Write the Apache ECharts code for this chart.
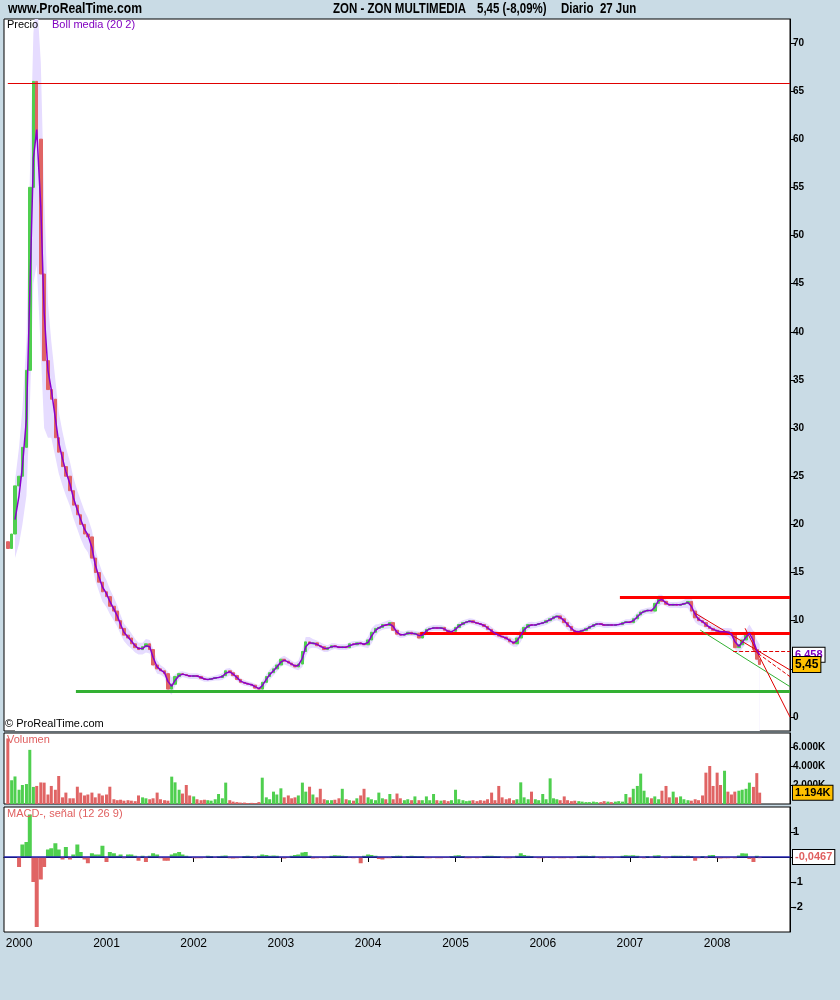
<!DOCTYPE html>
<html><head><meta charset="utf-8">
<script src="https://cdn.jsdelivr.net/npm/echarts@6/dist/echarts.min.js"></script>
<style>html,body{margin:0;padding:0;background:#c9dbe5;}#c{width:840px;height:1000px;}</style>
</head><body><div id="c"></div>
<script>
// ---- data (semi-monthly samples) ----
const closes = [17.5,19,24,
25,28,36,55,66,60,46,37,34,33,29,27.5,26,25,23.5,22,21,20,19,18.7,16.5,15,14,13,
12.5,11.5,11.0,10.0,9.2,8.5,8.2,7.6,7.2,7.0,7.3,7.6,7.0,5.4,5.0,4.8,4.5,2.9,3.4,4.2,4.5,4.4,4.3,4.2,
4.3,4.2,4.0,3.9,3.9,4.0,4.1,4.1,4.3,4.8,4.6,4.3,3.9,3.6,3.5,3.4,3.3,3.0,2.9,3.6,4.2,4.6,5.0,5.4,
6.0,5.8,5.6,5.4,5.2,5.5,6.8,7.8,7.6,7.7,7.4,7.3,7.0,7.2,7.4,7.3,7.2,7.3,7.2,7.6,7.5,7.7,7.6,7.5,
8.0,8.8,9.2,9.3,9.6,9.5,9.8,9.0,8.6,8.5,8.6,8.8,8.6,8.7,8.2,8.8,9.1,9.2,9.3,9.2,9.3,9.0,8.8,8.9,
9.3,9.6,9.8,9.9,10.0,9.8,9.7,9.6,9.4,9.1,8.8,8.6,8.4,8.3,8.1,7.8,7.6,8.2,8.8,9.3,9.6,9.5,9.6,9.7,
9.8,10.0,10.2,10.4,10.5,10.2,9.8,9.4,9.0,8.8,8.9,9.0,9.2,9.4,9.6,9.7,9.6,9.5,9.6,9.5,9.6,9.6,9.8,9.9,
9.8,10.2,10.6,10.9,11.0,11.1,11.0,11.8,12.4,12.0,11.7,11.6,11.7,11.6,11.7,11.8,12.0,11.0,10.3,10.0,9.8,9.4,9.2,9.0,
8.9,8.8,8.9,8.7,8.5,7.2,7.5,8.0,8.6,8.8,7.0,6.0,5.45];
const firstOpen = 18.2;
const bollMid = [null,null,20.5,
23,26,31,44,58,61,53,42,36,34,31,28.5,26.8,25.5,24.2,22.8,21.5,20.5,19.5,18.9,17.6,15.8,14.5,13.5,
12.8,12.0,11.2,10.5,9.6,8.8,8.3,7.9,7.4,7.1,7.1,7.4,7.3,6.2,5.2,4.9,4.6,3.7,3.2,3.8,4.3,4.45,4.35,4.25,
4.25,4.25,4.1,3.95,3.9,3.95,4.05,4.1,4.2,4.55,4.7,4.45,4.1,3.75,3.55,3.45,3.35,3.15,2.95,3.25,3.9,4.4,4.8,5.2,
5.7,5.9,5.7,5.5,5.3,5.35,6.1,7.3,7.7,7.65,7.55,7.35,7.15,7.1,7.3,7.35,7.25,7.25,7.25,7.4,7.55,7.6,7.65,7.55,
7.75,8.4,9.0,9.25,9.45,9.55,9.65,9.4,8.8,8.55,8.55,8.7,8.7,8.65,8.45,8.5,8.95,9.15,9.25,9.25,9.25,9.15,8.9,8.85,
9.1,9.45,9.7,9.85,9.95,9.9,9.75,9.65,9.5,9.25,8.95,8.7,8.5,8.35,8.2,7.95,7.7,7.9,8.5,9.05,9.45,9.55,9.55,9.65,
9.75,9.9,10.1,10.3,10.45,10.35,10.0,9.6,9.2,8.9,8.85,8.95,9.1,9.3,9.5,9.65,9.65,9.55,9.55,9.55,9.55,9.6,9.7,9.85,
9.85,10.0,10.4,10.75,10.95,11.05,11.05,11.4,12.1,12.2,11.85,11.65,11.65,11.65,11.65,11.75,11.9,11.5,10.65,10.15,9.9,9.6,9.3,9.1,
8.95,8.85,8.85,8.8,8.6,7.85,7.35,7.75,8.3,8.7,7.9,6.9,6.458];
const bollHalf = [null,null,4,
5,6,8,12,13,14,15,12,7,5,4,3.2,2.8,2.5,2.3,2.1,2,2,1.9,1.8,1.8,1.6,1.5,1.5,
1.4,1.3,1.2,1.1,1.0,0.9,0.9,0.8,0.7,0.6,0.6,0.7,0.7,0.9,0.7,0.5,0.5,1.0,0.9,0.6,0.4,0.3,0.3,0.3,
0.3,0.3,0.3,0.3,0.25,0.25,0.25,0.3,0.35,0.45,0.4,0.35,0.35,0.3,0.3,0.25,0.25,0.3,0.35,0.5,0.55,0.5,0.5,0.5,
0.5,0.45,0.4,0.35,0.35,0.5,0.9,1.0,0.6,0.45,0.4,0.4,0.4,0.35,0.35,0.3,0.3,0.3,0.3,0.35,0.35,0.3,0.3,0.3,
0.6,0.8,0.6,0.4,0.4,0.4,0.45,0.5,0.45,0.35,0.3,0.3,0.3,0.3,0.4,0.4,0.4,0.3,0.3,0.3,0.3,0.3,0.3,0.3,
0.35,0.4,0.35,0.3,0.3,0.3,0.3,0.3,0.35,0.4,0.4,0.35,0.35,0.3,0.35,0.4,0.4,0.6,0.7,0.5,0.4,0.35,0.3,0.3,
0.3,0.35,0.35,0.35,0.4,0.45,0.55,0.55,0.5,0.4,0.35,0.3,0.3,0.35,0.35,0.3,0.3,0.3,0.3,0.25,0.25,0.25,0.3,0.3,
0.3,0.4,0.45,0.4,0.3,0.3,0.35,0.6,0.6,0.5,0.35,0.3,0.3,0.3,0.35,0.4,0.6,0.9,0.8,0.6,0.5,0.4,0.4,0.4,
0.4,0.4,0.4,0.45,0.6,0.8,0.7,0.6,0.7,0.9,1.0,1.1,1.1];
const volumes = [6900,2500,2900,
1500,2000,2100,5700,1800,1900,2270,2250,1000,1900,1500,2950,700,1200,600,600,1820,1200,900,1000,1200,700,1100,900,
1000,1820,500,400,450,350,400,350,300,900,700,600,500,600,1200,500,400,350,2880,2280,1500,1100,2000,900,
800,500,400,450,400,350,500,1050,600,2250,400,250,200,150,150,100,120,100,200,2770,700,500,1300,1000,
1650,700,900,600,700,900,2250,1300,1820,1000,700,1600,500,400,400,450,600,1600,500,400,350,600,900,1600,
700,500,400,1200,600,500,1050,500,1100,600,400,500,400,800,400,400,800,400,1050,400,350,400,300,400,
1500,500,400,300,350,400,300,400,350,500,1200,400,1900,700,500,600,400,500,2280,700,500,1300,500,400,
1050,500,2700,600,500,400,800,400,300,350,300,250,200,200,250,200,200,300,250,200,250,300,250,1050,
700,1600,1900,3200,1400,700,600,800,500,1400,1900,700,1300,700,800,500,400,350,500,400,900,3300,4000,1900,
3300,2000,3500,1300,1000,1300,1400,1500,1600,2250,1800,3250,1194];
const macdHist = [null,null,null,
-0.4,0.5,0.6,1.7,-1.0,-2.8,-0.9,-0.4,0.3,0.35,0.55,0.3,-0.1,0.4,-0.1,0.1,0.5,0.2,-0.1,-0.25,0.15,0.1,0.1,0.45,
-0.2,0.2,0.15,0.05,0.1,-0.05,0.1,0.1,0.05,-0.15,0.05,-0.2,0.05,0.15,0.1,-0.05,-0.15,-0.15,0.1,0.15,0.2,0.1,0.05,0.0,
-0.05,-0.05,-0.05,-0.04,0.05,0.04,-0.04,0.03,0.05,0.06,-0.05,-0.06,-0.05,-0.04,0.04,0.05,0.03,-0.05,0.05,0.1,0.08,0.05,0.06,0.05,
-0.03,-0.06,-0.04,0.05,0.08,0.1,0.18,0.2,0.05,-0.06,-0.05,-0.04,-0.05,-0.03,0.05,0.07,0.06,0.05,0.04,-0.03,-0.05,-0.04,-0.25,0.05,
0.1,0.08,0.05,-0.08,-0.1,-0.05,-0.05,0.04,0.05,0.05,-0.03,0.04,0.05,0.04,0.03,0.04,-0.05,-0.05,-0.04,-0.05,-0.05,-0.04,-0.04,0.04,
0.06,0.07,0.04,-0.05,-0.05,-0.04,-0.05,-0.04,0.04,0.05,0.05,0.04,0.03,-0.04,-0.05,-0.05,-0.04,0.05,0.15,0.08,0.05,0.04,-0.04,-0.05,
-0.05,-0.04,-0.03,-0.05,-0.04,-0.05,-0.05,-0.04,-0.05,-0.04,0.04,0.05,0.05,0.04,0.05,-0.04,-0.05,-0.05,-0.04,-0.05,-0.04,-0.03,0.05,0.07,
0.06,0.07,0.05,-0.04,-0.05,0.04,-0.04,0.06,0.07,-0.04,-0.05,-0.03,0.05,0.05,0.05,0.04,0.05,0.04,-0.15,-0.05,0.04,-0.05,0.07,0.08,
-0.05,-0.06,-0.05,-0.05,-0.04,-0.05,0.06,0.15,0.14,-0.08,-0.2,0.05,-0.0467];
const priceTicks = [0,5,10,15,20,25,30,35,40,45,50,55,60,65,70];
const volTicks = [2000,4000,6000];
const macdTicks = [1,-1,-2];
const macdTickMarks = [1,0,-1,-2];
const yearLabels = ['2000','2001','2002','2003','2004','2005','2006','2007','2008'];
const xMinDate = '1999-10-30', xMaxDate = '2008-11-01';
const lastClose = 5.45, lastMid = 6.458, lastVol = 1194, lastMacd = -0.0467;
// drawn support / resistance lines (data values)
const hLines = [
  {from:'1999-11-15', value:65.8, color:'#e00000', width:1},
  {from:'2006-11-20', value:12.45, color:'#ff0000', width:3},
  {from:'2004-08-06', value:8.7, color:'#ff0000', width:3},
  {from:'2000-08-26', value:2.65, color:'#33b033', width:3}
];
const trendLines = [
  {a:['2007-10-22',9.03], b:[xMaxDate,3.15], color:'#33b033', type:'solid'},
  {a:['2007-10-01',10.77], b:[xMaxDate,4.88], color:'#e00000', type:'solid'},
  {a:['2008-04-27',9.21], b:[xMaxDate,0.0], color:'#e00000', type:'solid'},
  {a:['2008-03-08',6.85], b:[xMaxDate,6.85], color:'#e00000', type:'dashed'},
  {a:['2008-05-31',6.96], b:[xMaxDate,4.19], color:'#e00000', type:'dashed'}
];

// ---- build ----
const ts = s => Date.UTC(+s.slice(0,4), +s.slice(5,7) - 1, +s.slice(8,10));
const dates = [];
for (let y = 1999; y <= 2008; y++) for (let m = 1; m <= 12; m++) for (const d of [1, 15]) {
  const s = y + '-' + String(m).padStart(2,'0') + '-' + String(d).padStart(2,'0');
  if (s >= '1999-11-15' && s <= '2008-06-15') dates.push(s);
}
dates.push('2008-06-27');
const X = dates.map(ts);
const xMin = ts(xMinDate), xMax = ts(xMaxDate);
const yearTicks = yearLabels.map(y => ts(y + '-01-01'));

const UP = '#4fcf4f', DOWN = '#e06464';
const opens = closes.map((c,i) => i === 0 ? firstOpen : closes[i-1]);
const isUp = closes.map((c,i) => c >= opens[i]);
const candles = closes.map((c,i) => [X[i], opens[i], c, Math.min(opens[i],c), Math.max(opens[i],c)]);
const upperBand = bollMid.map((m,i) => [X[i], m == null ? '-' : m + bollHalf[i]]);
const lowerBand = bollMid.map((m,i) => [X[i], m == null ? '-' : m - bollHalf[i]]);
const mid = bollMid.map((m,i) => [X[i], m == null ? '-' : m]);
const volData = volumes.map((v,i) => ({value:[X[i], v], itemStyle:{color: isUp[i] ? UP : DOWN}}));
const macdData = macdHist.map((v,i) => ({value:[X[i], v == null ? '-' : v], itemStyle:{color: (v||0) >= 0 ? UP : DOWN}}));

const markLines = hLines.map(h => [
  {coord:[ts(h.from), h.value], lineStyle:{color:h.color, width:h.width, type:'solid'}},
  {coord:[xMax, h.value]}
]).concat(trendLines.map(t => [
  {coord:[ts(t.a[0]), t.a[1]], lineStyle:{color:t.color, width:1, type:t.type}},
  {coord:[ts(t.b[0]), t.b[1]]}
]));

function endLabel(value, text, color, bg, fs) {
  return {
    symbol:['none','none'], silent:true, animation:false,
    lineStyle:{color:'rgba(0,0,0,0)', width:0},
    data:[{yAxis:value, label:{show:true, position:'end', distance:3, formatter:text,
      color:color, backgroundColor:bg, borderColor:'#000', borderWidth:1,
      padding:[2,2,1,2], fontFamily:'Liberation Sans', fontWeight:'bold', fontSize:fs}}]
  };
}

const GRID_COMMON = {left:4, width:786, show:true, backgroundColor:'#fff', borderColor:'#000', borderWidth:1};
const xCommon = {type:'value', min:xMin, max:xMax, axisLine:{show:false}, axisTick:{show:false}, axisLabel:{show:false}, splitLine:{show:false}};
const yCommon = {type:'value', position:'right', splitLine:{show:false},
  axisLine:{show:true, lineStyle:{color:'#000'}},
  axisTick:{show:true, length:5, lineStyle:{color:'#000'}},
  axisLabel:{color:'#000', fontFamily:'Liberation Sans', fontWeight:'bold', fontSize:10, margin:3}};
const TITLE_FONT = 'bold 14px "Liberation Sans"';

const chart = echarts.init(document.getElementById('c'), null, {renderer:'canvas'});
chart.setOption({
  backgroundColor:'#c9dbe5',
  animation:false,
  grid:[
    Object.assign({top:19, height:712}, GRID_COMMON),
    Object.assign({top:733, height:71}, GRID_COMMON),
    Object.assign({top:807, height:125}, GRID_COMMON)
  ],
  xAxis:[
    Object.assign({gridIndex:0}, xCommon),
    Object.assign({gridIndex:1}, xCommon),
    {gridIndex:2, type:'value', min:xMin, max:xMax, splitLine:{show:false},
     axisLine:{show:true, lineStyle:{color:'#000'}},
     axisTick:{show:true, length:5, customValues:yearTicks, lineStyle:{color:'#000'}},
     axisLabel:{customValues:yearTicks, color:'#000', fontFamily:'Liberation Sans', fontSize:12, margin:6,
       formatter:v => String(new Date(v).getUTCFullYear())}}
  ],
  yAxis:[
    Object.assign({}, yCommon, {gridIndex:0, min:-1.454, max:72.48,
      axisTick:Object.assign({}, yCommon.axisTick, {customValues:priceTicks}),
      axisLabel:Object.assign({}, yCommon.axisLabel, {customValues:priceTicks})}),
    Object.assign({}, yCommon, {gridIndex:1, min:0, max:7474,
      axisTick:Object.assign({}, yCommon.axisTick, {customValues:volTicks}),
      axisLabel:Object.assign({}, yCommon.axisLabel, {customValues:volTicks, fontSize:10,
        formatter:v => (v/1000).toFixed(3) + 'K'})}),
    Object.assign({}, yCommon, {gridIndex:2, min:-3, max:2,
      axisTick:Object.assign({}, yCommon.axisTick, {customValues:macdTickMarks}),
      axisLabel:Object.assign({}, yCommon.axisLabel, {customValues:macdTicks, fontSize:11, formatter:v => String(v)})})
  ],
  series:[
    {name:'bollUpper', type:'line', xAxisIndex:0, yAxisIndex:0, data:upperBand,
     showSymbol:false, symbol:'none', lineStyle:{width:0, color:'rgba(0,0,0,0)'},
     areaStyle:{color:'#e6dcff', opacity:1, origin:'start'}, silent:true, z:1},
    {name:'bollLower', type:'line', xAxisIndex:0, yAxisIndex:0, data:lowerBand,
     showSymbol:false, symbol:'none', lineStyle:{width:0, color:'rgba(0,0,0,0)'},
     areaStyle:{color:'#ffffff', opacity:1, origin:'start'}, silent:true, z:1.5},
    {name:'Precio', type:'candlestick', xAxisIndex:0, yAxisIndex:0, data:candles, encode:{x:0, y:[1,2,3,4]},
     barWidth:3, z:3,
     itemStyle:{color:UP, color0:DOWN, borderColor:UP, borderColor0:DOWN, borderWidth:1},
     markLine:{symbol:['none','none'], silent:true, animation:false, label:{show:false}, data:markLines}},
    {name:'markMid', type:'line', xAxisIndex:0, yAxisIndex:0, data:[[X[X.length-1], lastMid]], symbol:'none', showSymbol:false,
     lineStyle:{width:0, color:'rgba(0,0,0,0)'}, z:4,
     markLine:endLabel(lastMid, lastMid.toFixed(3).replace('.', ','), '#8000c0', '#fff', 11)},
    {name:'Boll media', type:'line', xAxisIndex:0, yAxisIndex:0, data:mid, showSymbol:false, symbol:'none',
     lineStyle:{color:'#8a00cc', width:1.5}, z:5,
     markLine:endLabel(lastClose, String(lastClose).replace('.', ','), '#000', '#ffc000', 12)},
    {name:'Volumen', type:'bar', xAxisIndex:1, yAxisIndex:1, data:volData, barWidth:3, z:3,
     markLine:endLabel(lastVol, (lastVol/1000).toFixed(3) + 'K', '#000', '#ffc000', 11)},
    {name:'MACD', type:'bar', xAxisIndex:2, yAxisIndex:2, data:macdData, barWidth:4, z:3,
     markLine:{symbol:['none','none'], silent:true, animation:false,
       data:[{yAxis:0, lineStyle:{color:'#2020b0', width:1.5, type:'solid'},
         label:{show:true, position:'end', distance:3, formatter:String(lastMacd).replace('.', ','),
           color:'#e06060', backgroundColor:'#fff', borderColor:'#000', borderWidth:1, padding:[2,2,1,2],
           fontFamily:'Liberation Sans', fontWeight:'bold', fontSize:11}}]}}
  ],
  graphic:[
    {type:'text', x:8, y:2, scaleX:0.87, z:10, style:{text:'www.ProRealTime.com', font:TITLE_FONT, fill:'#000'}},
    {type:'text', x:333, y:2, scaleX:0.82, z:10, style:{text:'ZON - ZON MULTIMEDIA', font:TITLE_FONT, fill:'#000'}},
    {type:'text', x:477, y:2, scaleX:0.82, z:10, style:{text:'5,45 (-8,09%)', font:TITLE_FONT, fill:'#000'}},
    {type:'text', x:561, y:2, scaleX:0.82, z:10, style:{text:'Diario  27 Jun', font:TITLE_FONT, fill:'#000'}},
    {type:'text', x:7, y:19, z:10, style:{text:'Precio', font:'11px "Liberation Sans"', fill:'#000'}},
    {type:'text', x:52, y:19, z:10, style:{text:'Boll media (20 2)', font:'11px "Liberation Sans"', fill:'#8000c0'}},
    {type:'text', x:5, y:718, z:10, style:{text:'© ProRealTime.com', font:'11px "Liberation Sans"', fill:'#000'}},
    {type:'text', x:7, y:734, z:10, style:{text:'Volumen', font:'11px "Liberation Sans"', fill:'#e06060'}},
    {type:'text', x:7, y:808, z:10, style:{text:'MACD-, señal (12 26 9)', font:'11px "Liberation Sans"', fill:'#e06060'}}
  ]
});
</script></body></html>
